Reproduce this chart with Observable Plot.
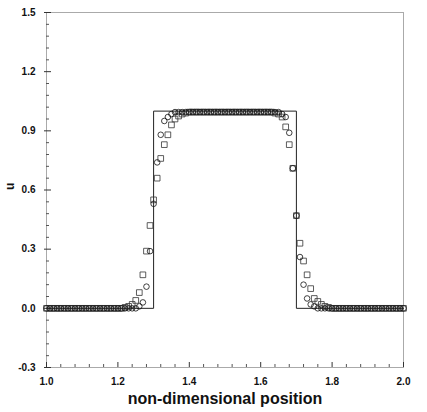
<!DOCTYPE html>
<html>
<head>
<meta charset="utf-8">
<script src="https://cdn.jsdelivr.net/npm/d3@7"></script>
<script src="https://cdn.jsdelivr.net/npm/@observablehq/plot@0.6"></script>
<style>
  html, body { margin: 0; padding: 0; background: #fff; }
</style>
</head>
<body>
<div id="chart"></div>
<script>
// grid positions (non-dimensional position)
const xs = [1.00,1.01,1.02,1.03,1.04,1.05,1.06,1.07,1.08,1.09,
            1.10,1.11,1.12,1.13,1.14,1.15,1.16,1.17,1.18,1.19,
            1.20,1.21,1.22,1.23,1.24,1.25,1.26,1.27,1.28,1.29,
            1.30,1.31,1.32,1.33,1.34,1.35,1.36,1.37,1.38,1.39,
            1.40,1.41,1.42,1.43,1.44,1.45,1.46,1.47,1.48,1.49,
            1.50,1.51,1.52,1.53,1.54,1.55,1.56,1.57,1.58,1.59,
            1.60,1.61,1.62,1.63,1.64,1.65,1.66,1.67,1.68,1.69,
            1.70,1.71,1.72,1.73,1.74,1.75,1.76,1.77,1.78,1.79,
            1.80,1.81,1.82,1.83,1.84,1.85,1.86,1.87,1.88,1.89,
            1.90,1.91,1.92,1.93,1.94,1.95,1.96,1.97,1.98,1.99,2.00];

// circle series
const circleU = [0,0,0,0,0,0,0,0,0,0,
                 0,0,0,0,0,0,0,0,0,0,
                 0,0,0,0,0,0,0.01,0.03,0.11,0.29,
                 0.53,0.74,0.88,0.95,0.97,0.985,0.995,0.995,0.995,0.995,
                 0.995,0.995,0.995,0.995,0.995,0.995,0.995,0.995,0.995,0.995,
                 0.995,0.995,0.995,0.995,0.995,0.995,0.995,0.995,0.995,0.995,
                 0.995,0.995,0.995,0.995,0.995,0.995,0.985,0.97,0.89,0.71,
                 0.47,0.26,0.12,0.05,0.02,0.01,0,0,0,0,
                 0,0,0,0,0,0,0,0,0,0,
                 0,0,0,0,0,0,0,0,0,0,0];

// square series
const squareU = [0,0,0,0,0,0,0,0,0,0,
                 0,0,0,0,0,0,0,0,0,0,
                 0,0,0.005,0.01,0.02,0.04,0.08,0.17,0.29,0.42,
                 0.55,0.66,0.76,0.83,0.88,0.93,0.96,0.975,0.985,0.99,
                 0.995,0.995,0.995,0.995,0.995,0.995,0.995,0.995,0.995,0.995,
                 0.995,0.995,0.995,0.995,0.995,0.995,0.995,0.995,0.995,0.995,
                 0.995,0.995,0.995,0.995,0.99,0.985,0.97,0.92,0.83,0.71,
                 0.47,0.33,0.24,0.17,0.10,0.05,0.035,0.02,0.01,0.005,
                 0,0,0,0,0,0,0,0,0,0,
                 0,0,0,0,0,0,0,0,0,0,0];

// exact solution (square pulse)
const exactX = [1.0, 1.3, 1.3, 1.7, 1.7, 2.0];
const exactU = [0, 0, 1, 1, 0, 0];

// axis ticks
const xTicks = [1.0, 1.2, 1.4, 1.6, 1.8, 2.0];
const xMinor = [1.04,1.08,1.12,1.16,1.24,1.28,1.32,1.36,1.44,1.48,1.52,1.56,1.64,1.68,1.72,1.76,1.84,1.88,1.92,1.96];
const yTicks = [-0.3, 0.0, 0.3, 0.6, 0.9, 1.2, 1.5];
const yMinor = [-0.24,-0.18,-0.12,-0.06,0.06,0.12,0.18,0.24,0.36,0.42,0.48,0.54,0.66,0.72,0.78,0.84,0.96,1.02,1.08,1.14,1.26,1.32,1.38,1.44];
const xTitle = "non-dimensional position";
const yTitle = "u";

const circles = xs.map((x, i) => ({x, u: circleU[i]}));
const squares = xs.map((x, i) => ({x, u: squareU[i]}));
const exact = exactX.map((x, i) => ({x, u: exactU[i]}));

const chart = Plot.plot({
  width: 427,
  height: 412,
  marginLeft: 46,
  marginRight: 24,
  marginTop: 12,
  marginBottom: 45,
  style: {fontFamily: "'Liberation Sans', Arial, sans-serif", background: "#fff", color: "#111"},
  x: {domain: [1.0, 2.0]},
  y: {domain: [-0.3, 1.5]},
  marks: [
    Plot.frame({stroke: "#aaa", strokeWidth: 1}),
    Plot.ruleX(xMinor, {x: d => d, y1: -0.3, y2: -0.3, insetBottom: 3, stroke: "#555"}),
    Plot.ruleX(xTicks, {x: d => d, y1: -0.3, y2: -0.3, insetBottom: 5, stroke: "#333"}),
    Plot.ruleY(yMinor, {y: d => d, x1: 1.0, x2: 1.0, insetRight: -3, stroke: "#555"}),
    Plot.ruleY(yTicks, {y: d => d, x1: 1.0, x2: 1.0, insetRight: -5, insetLeft: -2, stroke: "#333"}),
    Plot.axisX({ticks: xTicks, tickFormat: d => d.toFixed(1), tickSize: 0, tickPadding: 10, fontSize: 10, fontWeight: "bold", label: null}),
    Plot.axisY({ticks: yTicks, tickFormat: d => d.toFixed(1), tickSize: 0, tickPadding: 11, fontSize: 10, fontWeight: "bold", label: null}),
    Plot.line(exact, {x: "x", y: "u", stroke: "#222", strokeWidth: 1}),
    Plot.dot(squares, {x: "x", y: "u", symbol: "square", r: 3.2, stroke: "#333", strokeWidth: 0.8, fill: "none"}),
    Plot.dot(circles, {x: "x", y: "u", symbol: "circle", r: 2.8, stroke: "#111", strokeWidth: 0.8, fill: "none"}),
    Plot.text([xTitle], {frameAnchor: "bottom", lineAnchor: "middle", dy: 31, fontSize: 16, fontWeight: "bold", fill: "#111"}),
    Plot.text([yTitle], {frameAnchor: "left", lineAnchor: "middle", dx: -36, rotate: -90, fontSize: 12, fontWeight: "bold", fill: "#111"})
  ]
});
document.getElementById("chart").appendChild(chart);
</script>
</body>
</html>
